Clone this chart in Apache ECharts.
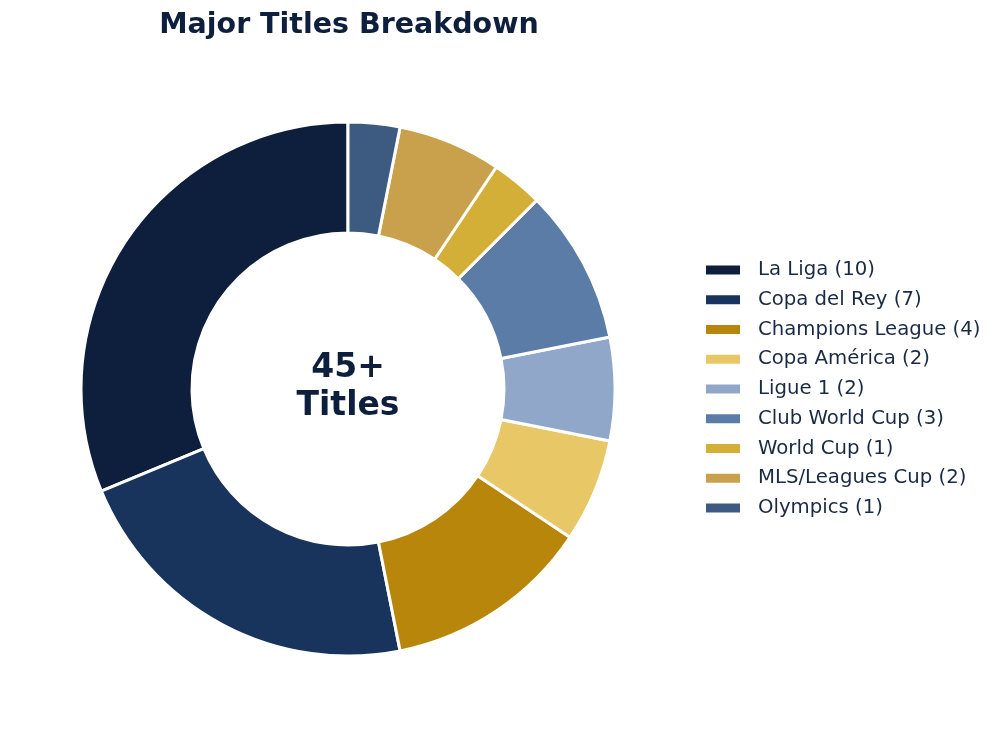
<!DOCTYPE html>
<html><head><meta charset="utf-8">
<script src="https://cdn.jsdelivr.net/npm/echarts@6/dist/echarts.min.js"></script>
<style>html,body{margin:0;padding:0;background:#fff}#c{width:1005px;height:738px}</style>
</head><body><div id="c"></div>
<script>
const categories = ['La Liga','Copa del Rey','Champions League','Copa América','Ligue 1','Club World Cup','World Cup','MLS/Leagues Cup','Olympics'];
const values = [10,7,4,2,2,3,1,2,1];
const colors = ['#0d1f3c','#18345d','#b8860b','#e8c766','#91a7c9','#5a7ca6','#d4af37','#c9a04b','#3d5a80'];
const titleText = 'Major Titles Breakdown';
const centerText = '45+\nTitles';

const data = categories.map((c,i)=>({name:c+' ('+values[i]+')', value:values[i], itemStyle:{color:colors[i]}}));
const chart = echarts.init(document.getElementById('c'));
chart.setOption({
  animation:false,
  backgroundColor:'#fff',
  graphic:[
    {type:'text', x:349, y:26, style:{text:titleText, fontFamily:'DejaVu Sans', fontWeight:'bold', fontSize:28.5, fill:'#0d1f3c', align:'center', verticalAlign:'middle'}},
    {type:'text', x:348, y:387, style:{text:centerText, fontFamily:'DejaVu Sans', fontWeight:'bold', fontSize:33, lineHeight:38, fill:'#0d1f3c', align:'center', verticalAlign:'middle'}}
  ],
  legend:{
    orient:'vertical', left:704, top:260, padding:0,
    icon:'rect', itemWidth:36, itemHeight:11, itemGap:9.75,
    textStyle:{fontFamily:'DejaVu Sans', fontSize:19.7, lineHeight:20, color:'#1a2a44', padding:[0,0,0,12]},
    selectedMode:false
  },
  series:[{
    type:'pie', center:[348,389], radius:[156,267],
    startAngle:90, clockwise:false,
    label:{show:false}, labelLine:{show:false},
    itemStyle:{borderColor:'#fff', borderWidth:3},
    emphasis:{disabled:true},
    data:data
  }]
});
</script></body></html>
